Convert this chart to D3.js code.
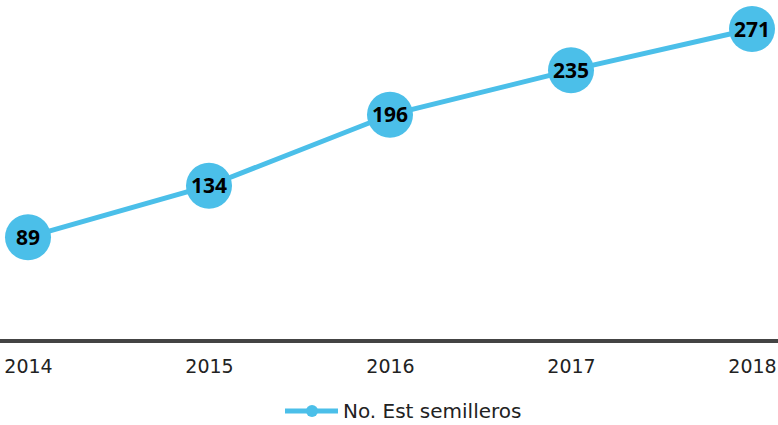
<!DOCTYPE html>
<html>
<head>
<meta charset="utf-8">
<script src="https://cdn.jsdelivr.net/npm/d3@7"></script>
<style>
  body { margin: 0; background: #fff; }
  svg { display: block; }
</style>
</head>
<body>
<div id="chart"></div>
<script>
var years = ["2014", "2015", "2016", "2017", "2018"];
var semilleros = [89, 134, 196, 235, 271];
var seriesName = "No. Est semilleros";

var width = 778, height = 425;
var blue = "#4bbfe9";

var svg = d3.select("#chart").append("svg")
    .attr("width", width)
    .attr("height", height);

var x = d3.scalePoint()
    .domain(years)
    .range([28, 752]);

var y = d3.scaleLinear()
    .domain([0, 271])
    .range([339, 29]);

// axis line at the bottom, labels under it
var xAxis = svg.append("g")
    .attr("transform", "translate(0,341)")
    .call(d3.axisBottom(x).tickSize(0).tickPadding(0));
xAxis.select(".domain").remove();
xAxis.append("line")
    .attr("x1", 0).attr("x2", width)
    .attr("stroke", "#444").attr("stroke-width", 4);
xAxis.selectAll(".tick text")
    .attr("y", 32)
    .attr("dy", 0)
    .attr("fill", "#222")
    .style("font-family", "'DejaVu Sans', sans-serif")
    .style("font-size", "19px");

var pts = years.map(function (d, i) { return { year: d, value: semilleros[i] }; });

var line = d3.line()
    .x(function (d) { return x(d.year); })
    .y(function (d) { return y(d.value); });

svg.append("path")
    .datum(pts)
    .attr("d", line)
    .attr("fill", "none")
    .attr("stroke", blue)
    .attr("stroke-width", 5);

var node = svg.selectAll(".pt")
    .data(pts)
    .enter().append("g")
    .attr("class", "pt")
    .attr("transform", function (d) {
        return "translate(" + x(d.year) + "," + y(d.value) + ")";
    });

node.append("circle")
    .attr("r", 23)
    .attr("fill", blue);

node.append("text")
    .attr("text-anchor", "middle")
    .attr("dy", "0.36em")
    .style("font-family", "'Open Sans', sans-serif")
    .style("font-weight", "bold")
    .style("font-size", "21px")
    .attr("fill", "#000")
    .text(function (d) { return d.value; });

// legend
var legend = svg.append("g").attr("transform", "translate(285,411)");
legend.append("line")
    .attr("x1", 0).attr("x2", 53)
    .attr("stroke", blue).attr("stroke-width", 5);
legend.append("circle")
    .attr("cx", 27).attr("r", 6)
    .attr("fill", blue);
legend.append("text")
    .attr("x", 58)
    .attr("dy", "0.35em")
    .attr("fill", "#222")
    .style("font-family", "'DejaVu Sans', sans-serif")
    .style("font-size", "20px")
    .text(seriesName);
</script>
</body>
</html>
